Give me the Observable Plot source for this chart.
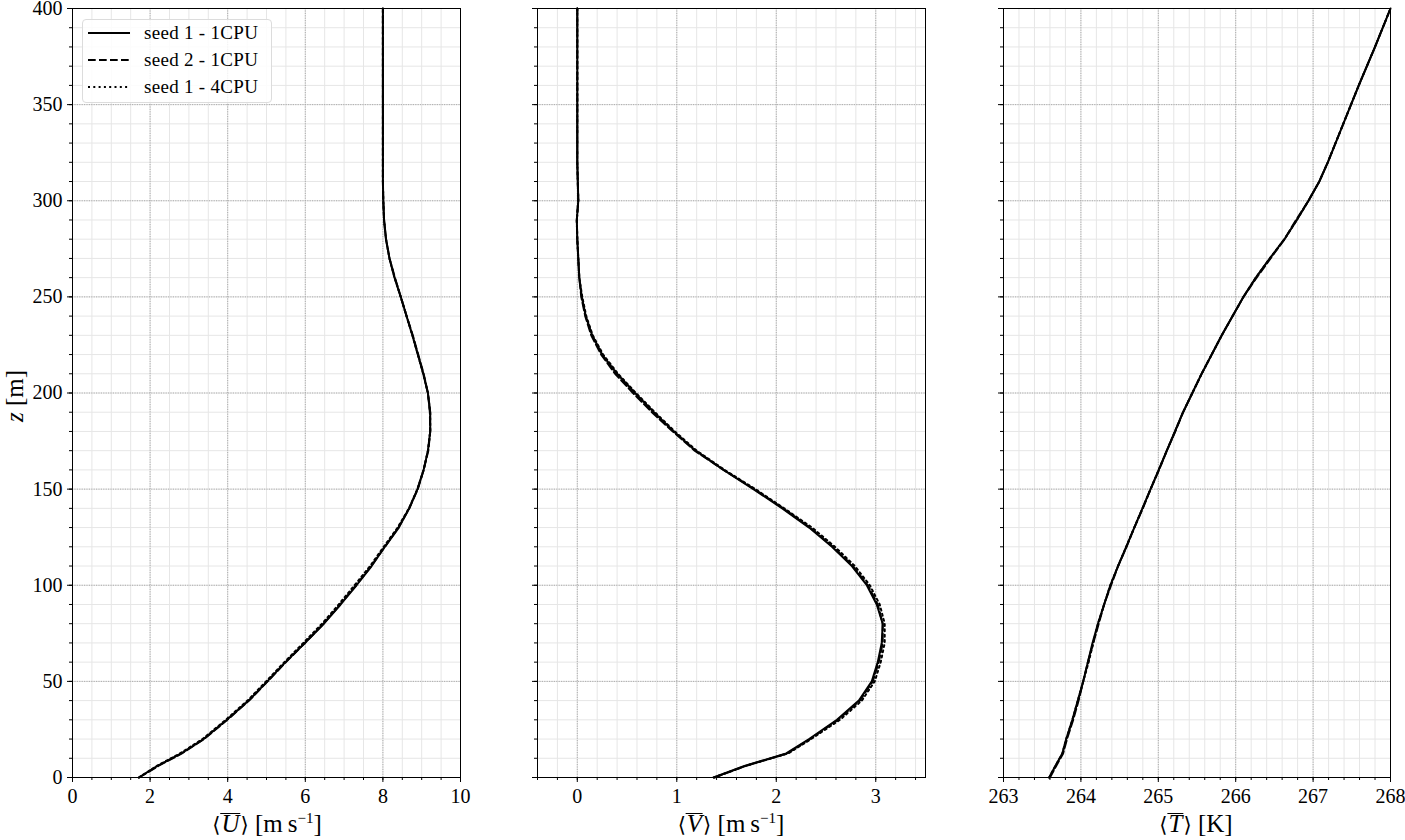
<!DOCTYPE html>
<html><head><meta charset="utf-8">
<script src="https://cdn.jsdelivr.net/npm/d3@7"></script>
<script src="https://cdn.jsdelivr.net/npm/@observablehq/plot@0.6"></script>
<style>
body{margin:0;background:#fff;width:1405px;height:840px;overflow:hidden;position:relative;font-family:"Liberation Serif","DejaVu Serif",serif;color:#000;}
.panel{position:absolute;top:0;}
.xlabel{position:absolute;top:809px;font-size:25px;line-height:30px;transform:translateX(-50%);white-space:nowrap;}
.ylabel{position:absolute;left:15px;top:396px;font-size:25px;line-height:28px;transform:translate(-50%,-50%) rotate(-90deg);white-space:nowrap;}
.ol{font-style:italic;display:inline-block;border-top:1.3px solid #000;line-height:20px;padding:0 1px;}
.br{font-family:"DejaVu Serif",serif;font-size:21px;}
sup{font-size:15px;line-height:0;}
#legend{position:absolute;left:82px;top:19px;width:190px;height:84px;border:1px solid #dcdcdc;border-radius:4px;background:rgba(255,255,255,0.85);box-sizing:border-box;}
.lrow{position:absolute;left:0;height:22px;display:flex;align-items:center;font-size:19px;letter-spacing:0.3px;}
.lrow svg{margin-left:5px;margin-right:14px;}
</style>
</head><body>
<div id="root"></div>
<script>
// ---- data ----
const seriesNames = ["seed 1 - 1CPU", "seed 2 - 1CPU", "seed 1 - 4CPU"];
const zLevels = [0,6,12.5,20,30,40,50,60,70,80,90,100,110,120,130,140,150,160,170,180,190,200,210,220,230,240,250,260,270,280,290,300,310,320,340,360,380,400];

const uSeed1 = [1.71,2.19,2.80,3.38,3.98,4.54,5.02,5.49,5.99,6.48,6.91,7.32,7.71,8.05,8.41,8.68,8.89,9.05,9.16,9.22,9.22,9.16,9.04,8.90,8.76,8.61,8.46,8.30,8.17,8.08,8.03,8.01,8.00,8.00,8.00,8.00,8.00,8.00];
const uSeed2 = [1.72,2.21,2.82,3.39,3.99,4.55,5.03,5.50,5.99,6.47,6.90,7.31,7.70,8.05,8.40,8.68,8.90,9.05,9.17,9.22,9.21,9.16,9.05,8.91,8.77,8.61,8.46,8.31,8.17,8.08,8.03,8.01,8.00,8.00,8.00,8.00,8.00,8.00];
const uSeed1Cpu4 = [1.71,2.17,2.77,3.35,3.95,4.51,4.99,5.46,5.95,6.43,6.86,7.27,7.67,8.02,8.38,8.67,8.89,9.05,9.16,9.22,9.22,9.16,9.04,8.90,8.76,8.61,8.46,8.30,8.17,8.08,8.03,8.01,8.00,8.00,8.00,8.00,8.00,8.00];

const vSeed1 = [1.37,1.68,2.10,2.33,2.61,2.83,2.96,3.02,3.06,3.07,3.01,2.91,2.76,2.56,2.33,2.06,1.77,1.47,1.19,0.97,0.77,0.58,0.40,0.25,0.15,0.085,0.045,0.02,0.01,0.0,-0.005,0.01,0.005,0.0,0.0,0.0,0.0,0.0];
const vSeed2 = [1.38,1.69,2.11,2.34,2.62,2.84,2.97,3.03,3.07,3.07,3.02,2.92,2.77,2.57,2.34,2.07,1.78,1.47,1.18,0.96,0.75,0.56,0.38,0.24,0.14,0.08,0.04,0.02,0.01,0.0,-0.005,0.01,0.005,0.0,0.0,0.0,0.0,0.0];
const vSeed1Cpu4 = [1.37,1.69,2.12,2.35,2.64,2.86,2.99,3.05,3.09,3.09,3.04,2.94,2.79,2.59,2.36,2.08,1.79,1.48,1.20,0.98,0.78,0.59,0.41,0.26,0.155,0.09,0.05,0.02,0.01,0.0,-0.005,0.01,0.005,0.0,0.0,0.0,0.0,0.0];

const tSeed1 = [263.59,263.67,263.76,263.81,263.89,263.96,264.03,264.09,264.15,264.22,264.30,264.38,264.48,264.585,264.69,264.795,264.90,265.005,265.11,265.215,265.32,265.44,265.56,265.69,265.82,265.96,266.10,266.26,266.44,266.63,266.79,266.94,267.08,267.19,267.39,267.59,267.80,268.00];
const tSeed2 = [263.60,263.68,263.77,263.82,263.90,263.97,264.03,264.09,264.16,264.23,264.30,264.39,264.48,264.59,264.69,264.80,264.90,265.01,265.11,265.22,265.32,265.44,265.56,265.69,265.82,265.96,266.10,266.27,266.45,266.63,266.78,266.94,267.08,267.19,267.39,267.59,267.80,268.00];
const tSeed1Cpu4 = [263.59,263.67,263.76,263.81,263.89,263.96,264.03,264.10,264.16,264.22,264.30,264.38,264.48,264.585,264.69,264.795,264.90,265.005,265.11,265.215,265.32,265.44,265.56,265.69,265.82,265.96,266.10,266.26,266.44,266.63,266.79,266.94,267.08,267.19,267.39,267.59,267.80,268.00];

const xTicksU = [0,2,4,6,8,10];
const xTicksV = [0,1,2,3];
const xTicksT = [263,264,265,266,267,268];
const yTicks = [0,50,100,150,200,250,300,350,400];

// ---- build ----
const dashes = [null, "7.7,3.3", "2,3.3"];
function rows(arrs) {
  return arrs.map((vals, si) => zLevels.map((z, i) => ({series: seriesNames[si], x: vals[i], z})));
}
const root = document.getElementById("root");
const font = '"Liberation Serif","DejaVu Serif",serif';

function panel({series, domain, major, minorStep, left, width, ml, mr, showY}) {
  const minor = d3.range(Math.ceil(domain[0] / minorStep - 1e-9), Math.floor(domain[1] / minorStep + 1e-9) + 1).map(k => +(k * minorStep).toFixed(6));
  const minorY = d3.range(0, 401, 10);
  const data = rows(series);
  const marks = [
    Plot.gridX(minor, {stroke: "#e6e6e6", strokeOpacity: 1, strokeWidth: 1}),
    Plot.gridY(minorY, {stroke: "#e6e6e6", strokeOpacity: 1, strokeWidth: 1}),
    Plot.gridX(major, {stroke: "#ababab", strokeOpacity: 1, strokeWidth: 1, strokeDasharray: "1.2,1.2"}),
    Plot.gridY(yTicks, {stroke: "#ababab", strokeOpacity: 1, strokeWidth: 1, strokeDasharray: "1.2,1.2"}),
  ];
  data.forEach((d, si) => {
    marks.push(Plot.line(d, {x: "x", y: "z", stroke: "black", strokeWidth: 2, strokeDasharray: dashes[si] ?? undefined}));
  });
  marks.push(
    Plot.frame({stroke: "black", strokeWidth: 1}),
    Plot.axisX(minor, {tickSize: 3, fill: "none", tickFormat: () => "", label: null}),
    Plot.axisX(major, {tickSize: 5, tickPadding: 6, label: null}),
    Plot.axisY(minorY, {tickSize: 3, fill: "none", tickFormat: () => "", label: null}),
    showY ? Plot.axisY(yTicks, {tickSize: 5, tickPadding: 5, label: null})
          : Plot.axisY(yTicks, {tickSize: 5, fill: "none", tickFormat: () => "", label: null})
  );
  const svg = Plot.plot({
    width, height: 840,
    marginLeft: ml, marginRight: mr, marginTop: 8, marginBottom: 63,
    x: {domain, label: null},
    y: {domain: [0, 400], label: null},
    style: {fontFamily: font, fontSize: "20px", background: "transparent", color: "black", overflow: "visible"},
    marks
  });
  svg.classList.add("panel");
  svg.style.left = left + "px";
  root.appendChild(svg);
}

panel({series: [uSeed1, uSeed2, uSeed1Cpu4], domain: [0, 10], major: xTicksU, minorStep: 0.5, left: 0, width: 470, ml: 72, mr: 10, showY: true});
panel({series: [vSeed1, vSeed2, vSeed1Cpu4], domain: [-0.4, 3.5], major: xTicksV, minorStep: 0.2, left: 470, width: 465, ml: 67, mr: 10, showY: false});
panel({series: [tSeed1, tSeed2, tSeed1Cpu4], domain: [263, 268], major: xTicksT, minorStep: 0.2, left: 935, width: 470, ml: 68, mr: 15, showY: false});

// axis labels
const labels = [
  {cx: 267, html: '<span class="br">⟨</span><span class="ol">U</span><span class="br">⟩</span> [m&#8201;s<sup>−1</sup>]'},
  {cx: 731, html: '<span class="br">⟨</span><span class="ol">V</span><span class="br">⟩</span> [m&#8201;s<sup>−1</sup>]'},
  {cx: 1196, html: '<span class="br">⟨</span><span class="ol">T</span><span class="br">⟩</span> [K]'}
];
labels.forEach(l => {
  const d = document.createElement("div");
  d.className = "xlabel";
  d.style.left = l.cx + "px";
  d.innerHTML = l.html;
  document.body.appendChild(d);
});
const yl = document.createElement("div");
yl.className = "ylabel";
yl.innerHTML = '<i>z</i> [m]';
document.body.appendChild(yl);

// legend
const leg = document.createElement("div");
leg.id = "legend";
seriesNames.forEach((name, i) => {
  const r = document.createElement("div");
  r.className = "lrow";
  r.style.top = (2 + i * 27) + "px";
  r.innerHTML = `<svg width="42" height="6"><line x1="0" x2="42" y1="3" y2="3" stroke="black" stroke-width="2" ${dashes[i] ? `stroke-dasharray="${dashes[i]}"` : ""}/></svg><span>${name}</span>`;
  leg.appendChild(r);
});
document.body.appendChild(leg);
</script>
</body></html>
